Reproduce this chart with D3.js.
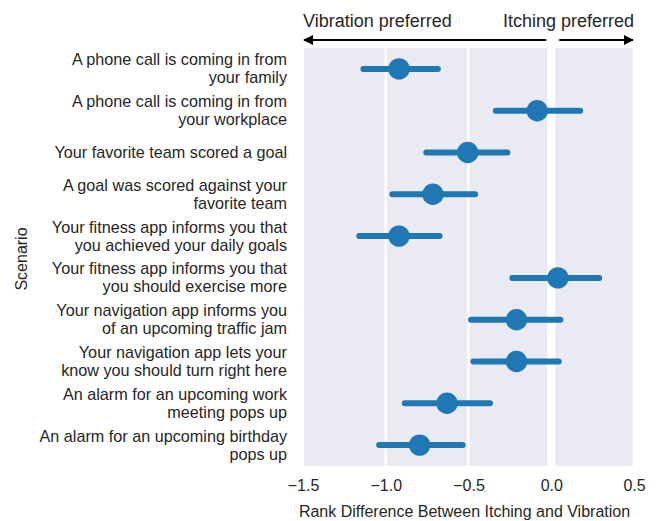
<!DOCTYPE html>
<html><head><meta charset="utf-8">
<script src="https://cdn.jsdelivr.net/npm/d3@7"></script>
<style>body{margin:0;background:#fff;} text{font-family:"Liberation Sans",Arial,sans-serif;fill:#262626;}</style>
</head><body>
<svg id="chart" width="663" height="521"></svg>
<script>
const scenarios = [
  ["A phone call is coming in from","your family"],
  ["A phone call is coming in from","your workplace"],
  ["Your favorite team scored a goal"],
  ["A goal was scored against your","favorite team"],
  ["Your fitness app informs you that","you achieved your daily goals"],
  ["Your fitness app informs you that","you should exercise more"],
  ["Your navigation app informs you","of an upcoming traffic jam"],
  ["Your navigation app lets your","know you should turn right here"],
  ["An alarm for an upcoming work","meeting pops up"],
  ["An alarm for an upcoming birthday","pops up"]
];
const means = [-0.92, -0.085, -0.505, -0.715, -0.92, 0.04, -0.21, -0.21, -0.63, -0.795];
const ciLow = [-1.135, -0.335, -0.755, -0.96, -1.16, -0.235, -0.485, -0.47, -0.885, -1.04];
const ciHigh = [-0.685, 0.175, -0.265, -0.46, -0.675, 0.29, 0.055, 0.045, -0.37, -0.535];
const xTicks = [-1.5, -1.0, -0.5, 0.0, 0.5];
const xLabel = "Rank Difference Between Itching and Vibration";
const yLabel = "Scenario";
const leftNote = "Vibration preferred";
const rightNote = "Itching preferred";

const svg = d3.select("#chart");
const L = 303, R = 634, T = 48, B = 466;
const x = d3.scaleLinear().domain([-1.5, 0.5]).range([L, R]);
const idx = d3.range(scenarios.length);
const y = d3.scaleBand().domain(idx).range([T, B]);
const blue = "#1f77b4";

svg.append("defs").append("marker").attr("id","ah").attr("viewBox","0 0 10 10")
  .attr("refX",9).attr("refY",5).attr("markerWidth",5).attr("markerHeight",5)
  .attr("markerUnits","strokeWidth").attr("orient","auto")
  .append("path").attr("d","M0,0 L10,5 L0,10 z").attr("fill","#000");

svg.append("rect").attr("x",L).attr("y",T).attr("width",R-L).attr("height",B-T).attr("fill","#eaeaf2");

// grid
svg.append("g").selectAll("line").data(xTicks).join("line")
  .attr("x1",d=>x(d)).attr("x2",d=>x(d)).attr("y1",T).attr("y2",B)
  .attr("stroke","#fff").attr("stroke-width",d=>d===0?8:2.3);

// x axis
const xa = svg.append("g").attr("transform",`translate(0,${B})`)
  .call(d3.axisBottom(x).tickValues(xTicks).tickSize(0).tickPadding(14).tickFormat(d=>d3.format(".1f")(d).replace("-","\u2212")));
xa.select(".domain").remove();
xa.selectAll("text").attr("font-size",16).style("fill","#262626").style("font-family","'Liberation Sans',Arial,sans-serif");

// y axis labels
const ya = svg.append("g");
idx.forEach(i=>{
  const lines = scenarios[i];
  const cy = y(i)+y.bandwidth()/2;
  const t = ya.append("text").attr("text-anchor","end").attr("font-size",16.2);
  lines.forEach((ln,k)=>{
    t.append("tspan").attr("x",287).attr("y",cy + (k-(lines.length-1)/2)*18 + 5.5).text(ln);
  });
});

svg.append("text").attr("transform",`translate(27,${(T+B)/2 + 2}) rotate(-90)`)
  .attr("text-anchor","middle").attr("font-size",16).text(yLabel);
svg.append("text").attr("x",(L+R)/2 - 4).attr("y",517).attr("text-anchor","middle").attr("font-size",16).text(xLabel);

// error bars and points
const g = svg.append("g");
g.selectAll("line").data(idx).join("line")
  .attr("x1",i=>x(ciLow[i])).attr("x2",i=>x(ciHigh[i]))
  .attr("y1",i=>y(i)+y.bandwidth()/2).attr("y2",i=>y(i)+y.bandwidth()/2)
  .attr("stroke",blue).attr("stroke-width",6).attr("stroke-linecap","round");
g.selectAll("circle").data(idx).join("circle")
  .attr("cx",i=>x(means[i])).attr("cy",i=>y(i)+y.bandwidth()/2).attr("r",10.7).attr("fill",blue);

// annotations
svg.append("text").attr("x",L).attr("y",27).attr("font-size",18).text(leftNote);
svg.append("text").attr("x",R).attr("y",27).attr("text-anchor","end").attr("font-size",18).text(rightNote);
svg.append("line").attr("x1",x(0)-5).attr("x2",L+1).attr("y1",40).attr("y2",40)
  .attr("stroke","#000").attr("stroke-width",2).attr("marker-end","url(#ah)");
svg.append("line").attr("x1",x(0)+8).attr("x2",R-1).attr("y1",40).attr("y2",40)
  .attr("stroke","#000").attr("stroke-width",2).attr("marker-end","url(#ah)");
</script>
</body></html>
